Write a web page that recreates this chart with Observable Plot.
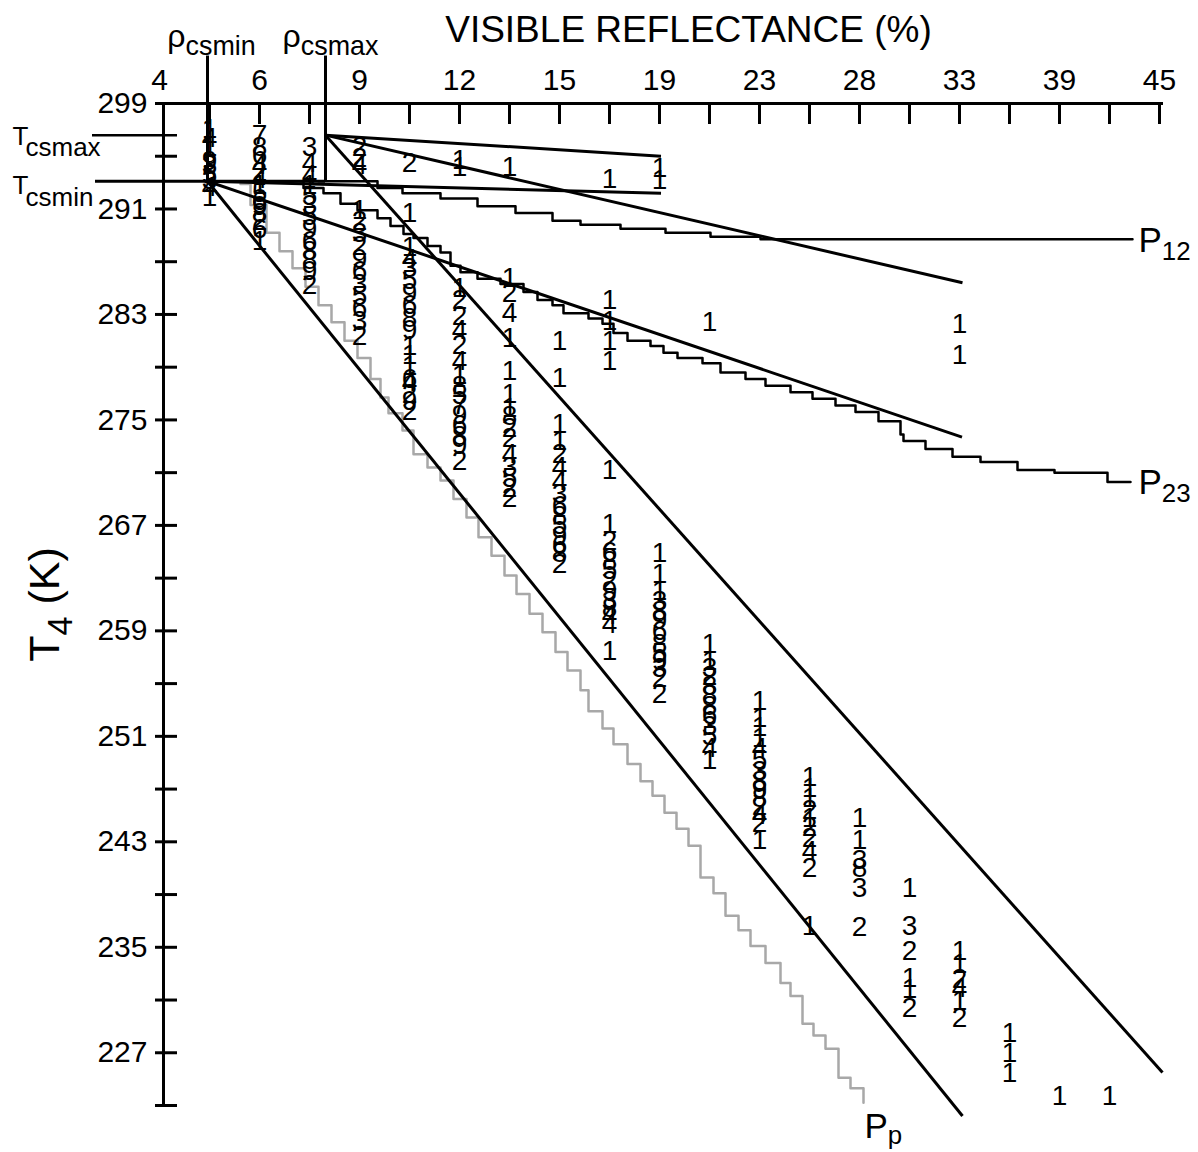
<!DOCTYPE html>
<html>
<head>
<meta charset="utf-8">
<script src="https://cdn.jsdelivr.net/npm/d3@7"></script>
<script src="https://cdn.jsdelivr.net/npm/@observablehq/plot@0.6"></script>
<style>
  body { margin: 0; background: #fff; }
  #chart svg text { font-family: Arial, "Liberation Sans", Helvetica, sans-serif; }
</style>
</head>
<body>
<div id="chart"></div>
<script>
// Horizontal axis: reflectance bins 0..20, labelled every second bin.
const binTicks = [0,1,2,3,4,5,6,7,8,9,10,11,12,13,14,15,16,17,18,19,20];
const labelBins = [0,2,4,6,8,10,12,14,16,18,20];
const reflectanceLabels = [4,6,9,12,15,19,23,28,33,39,45];

// Vertical axis: brightness temperature T4 (K).
const tempTicks = [223,227,231,235,239,243,247,251,255,259,263,267,271,275,279,283,287,291,295,299];
const tempLabels = [227,235,243,251,259,267,275,283,291,299];

// Clear-sky thresholds (reflectance in bin units, temperature in K).
const rhoCsMin = 0.96, rhoCsMax = 3.32;
const tCsMin = 293.1, tCsMax = 296.6;
const thresholdTop = 302.6;          // top of the reflectance threshold markers
const thresholdLeft = [-1.34, -1.28]; // left end of Tcsmax / Tcsmin markers
const tCsMaxRight = 0.36;

// Straight boundaries from the two clear-sky corners (end points).
const endsFromMin = [[10.03, 292.2], [16.05, 273.7], [16.06, 222.2]];
const endsFromMax = [[10.03, 295.0], [16.06, 285.4], [20.06, 225.5]];

// Step boundaries [bin, T].
const p12 = [[3.18,293.1],[4.36,292.6],[4.86,292.2],[5.62,291.8],[6.36,291.2],[7.12,290.7],[7.86,290.1],
  [8.42,289.8],[9.22,289.5],[10.12,289.2],[11.02,288.9],[12.02,288.7],[19.46,288.7]];
const p23 = [[2.82,293.1],[2.88,292.6],[3.28,292.2],[3.62,291.4],[3.96,290.9],[4.36,290.3],[4.62,289.7],
  [4.88,289.1],[5.08,288.8],[5.36,288.2],[5.62,287.7],[5.82,286.7],[6.02,286.2],[6.36,285.7],[6.82,285.3],
  [7.28,284.7],[7.56,284.1],[7.86,283.7],[8.08,283.1],[8.58,282.7],[8.86,282.3],[9.08,281.6],[9.36,281.0],
  [9.82,280.6],[10.08,280.1],[10.36,279.7],[10.86,279.3],[11.22,278.6],[11.72,278.1],[12.12,277.6],
  [12.62,277.1],[13.06,276.6],[13.52,276.1],[13.92,275.6],[14.38,274.9],[14.82,273.9],[14.88,273.4],
  [15.32,272.8],[15.86,272.2],[16.42,271.8],[17.16,271.2],[17.9,271.0],[18.96,270.3],[19.42,270.3]];
const pp = [[1.62,292.9],[1.82,291.3],[2.14,289.2],[2.4,287.8],[2.66,286.5],[2.92,285.1],[3.18,283.7],
  [3.44,282.4],[3.7,281.0],[3.96,279.7],[4.22,278.1],[4.42,276.7],[4.58,275.5],[4.86,274.2],[5.08,272.4],
  [5.36,271.4],[5.62,270.4],[5.88,269.0],[6.14,267.6],[6.38,266.1],[6.64,264.7],[6.9,263.2],[7.14,261.8],
  [7.4,260.3],[7.66,258.9],[7.92,257.4],[8.16,256.0],[8.42,254.5],[8.58,252.9],[8.86,251.6],[9.08,250.4],
  [9.36,248.9],[9.62,247.6],[9.86,246.5],[10.1,245.2],[10.34,244.0],[10.58,242.7],[10.82,240.3],[11.08,239.1],
  [11.32,237.4],[11.58,236.3],[11.82,235.1],[12.12,233.8],[12.42,232.3],[12.62,231.3],[12.86,229.2],
  [13.08,228.3],[13.32,227.3],[13.58,225.1],[13.82,224.3],[14.08,223.2]];

// Pixel counts per reflectance bin: [T, count].
const c01 = [[297.1,1],[296.4,4],[295.7,1],[294.6,9],[294.3,3],[293.6,5],[293.2,3],[292.7,4],[291.9,1]];
const c02 = [[296.6,7],[295.7,8],[295.1,6],[294.3,4],[293.8,2],[293.3,4],[292.8,1],[292.2,5],[291.6,6],[291.2,9],[290.7,8],[290.1,2],[289.5,6],[288.6,1]];
const c03 = [[295.7,3],[294.5,4],[293.6,4],[292.8,1],[292.0,5],[291.3,3],[290.5,5],[289.5,9],[288.6,6],[287.8,8],[287.1,8],[286.3,9],[285.2,2]];
const c04 = [[295.7,2],[294.9,2],[294.3,4],[290.9,1],[290.1,2],[289.2,3],[288.2,2],[287.2,9],[286.3,6],[285.3,3],[284.4,5],[283.5,6],[282.5,3],[281.4,2]];
const c05 = [[294.5,2],[290.7,1],[288.1,1],[287.2,4],[286.5,3],[285.6,5],[284.6,9],[283.7,6],[282.7,8],[281.8,9],[280.6,1],[279.9,1],[279.1,1],[278.1,6],[277.9,4],[277.0,2],[276.4,9],[275.7,2]];
const c06 = [[294.7,1],[294.2,1],[285.0,1],[284.1,2],[282.9,2],[281.8,4],[280.7,2],[279.5,4],[278.4,1],[277.6,8],[276.9,5],[276.1,7],[275.4,9],[274.6,6],[273.8,8],[273.1,9],[271.9,2]];
const c07 = [[294.2,1],[285.8,1],[284.6,2],[283.1,4],[281.2,1],[278.7,1],[277.0,1],[275.9,1],[275.3,8],[274.4,2],[273.6,2],[272.4,4],[271.4,3],[270.6,5],[269.8,2],[269.1,2]];
const c08 = [[281.0,1],[278.2,1],[274.7,1],[273.4,1],[272.4,2],[271.4,4],[270.4,4],[269.4,3],[268.5,6],[267.7,8],[267.0,5],[266.2,9],[265.5,6],[264.9,8],[264.1,2]];
const c09 = [[293.3,1],[284.1,1],[282.5,1],[281.0,1],[279.5,1],[271.2,1],[267.1,1],[265.8,2],[265.0,6],[264.3,8],[263.6,5],[262.8,2],[262.0,9],[261.3,3],[260.7,8],[260.2,4],[259.5,4],[257.5,1]];
const c10 = [[294.1,1],[293.2,1],[264.9,1],[263.3,1],[262.0,1],[261.3,3],[260.5,8],[259.8,9],[259.0,6],[258.0,8],[257.3,5],[256.7,9],[256.2,3],[255.4,2],[254.2,2]];
const c11 = [[282.4,1],[258.0,1],[256.7,1],[256.2,3],[255.6,2],[254.8,8],[254.1,8],[253.3,8],[252.6,6],[251.8,3],[251.0,5],[250.1,4],[249.2,1]];
const c12 = [[253.7,1],[252.4,1],[251.7,1],[250.9,1],[250.1,4],[249.2,5],[248.4,3],[247.6,8],[246.9,9],[246.3,8],[245.7,2],[245.0,4],[244.4,2],[243.1,1]];
const c13 = [[247.9,1],[247.1,1],[246.3,1],[245.4,2],[244.8,1],[244.1,2],[243.3,2],[242.3,4],[241.0,2],[236.6,1]];
const c14 = [[244.8,1],[243.1,1],[241.6,3],[241.0,8],[239.5,3],[236.5,2]];
const c15 = [[239.5,1],[236.6,3],[234.7,2],[232.7,1],[231.8,1],[230.4,2]];
const c16 = [[282.3,1],[279.9,1],[234.7,1],[233.7,1],[232.6,2],[231.9,4],[230.9,1],[229.6,2]];
const c17 = [[228.5,1],[227.0,1],[225.5,1]];
const c18 = [[223.7,1]];
const c19 = [[223.7,1]];
const columns = [c01,c02,c03,c04,c05,c06,c07,c08,c09,c10,c11,c12,c13,c14,c15,c16,c17,c18,c19];

const counts = columns.flatMap((col, i) => col.map(([t, n]) => ({bin: i + 1, t, n})));
const segments = [
  ...endsFromMin.map(([b, t]) => ({x1: rhoCsMin, y1: tCsMin, x2: b, y2: t})),
  ...endsFromMax.map(([b, t]) => ({x1: rhoCsMax, y1: tCsMax, x2: b, y2: t}))
];
const last = a => a[a.length - 1];

// Subscript size and drop for each "base_sub" label.
const subStyle = {
  "T4": ["80%", "0.36em"],
  "ρcsmin": ["84%", "0.30em"],
  "ρcsmax": ["84%", "0.30em"],
  "Tcsmax": ["100%", "0.42em"],
  "Tcsmin": ["100%", "0.46em"],
  "P12": ["74%", "0.32em"],
  "P23": ["74%", "0.32em"],
  "Pp": ["74%", "0.22em"]
};

const font = 'Arial, "Liberation Sans", Helvetica, sans-serif';

const chart = Plot.plot({
  width: 1198,
  height: 1152,
  marginLeft: 159,
  marginRight: 39,
  marginTop: 103,
  marginBottom: 47,
  style: {background: "#fff", fontFamily: font, overflow: "visible"},
  x: {type: "linear", domain: [0, 20], axis: null},
  y: {type: "linear", domain: [223, 299], axis: null},
  marks: [
    // axis lines
    Plot.ruleX([0], {dx: 4, stroke: "#000", strokeWidth: 3}),
    Plot.ruleY([299], {dx: 4, stroke: "#000", strokeWidth: 3}),
    // tick marks
    Plot.axisY({ticks: tempTicks, tickSize: 22, dx: 18, tickFormat: () => "", label: null, stroke: "#000", strokeWidth: 3}),
    Plot.axisX({anchor: "top", ticks: binTicks.slice(1), tickSize: 20, dy: 20, tickFormat: () => "", label: null, stroke: "#000", strokeWidth: 3}),
    // tick labels
    Plot.text(labelBins, {x: d => d, frameAnchor: "top", lineAnchor: "bottom", dy: -14, text: (d, i) => String(reflectanceLabels[i]), fontSize: 30, fill: "#000"}),
    Plot.text(tempLabels, {y: d => d, frameAnchor: "left", dx: -12, textAnchor: "end", lineAnchor: "middle", text: d => String(d), fontSize: 30, fill: "#000"}),
    // titles
    Plot.text(["VISIBLE REFLECTANCE (%)"], {frameAnchor: "top", lineAnchor: "middle", dx: 29, dy: -73, fontSize: 37, fill: "#000"}),
    Plot.text(["T_4_ (K)"], {frameAnchor: "left", textAnchor: "middle", lineAnchor: "middle", dx: -114, rotate: -90, fontSize: 43, fill: "#000"}),

    // gray Pp step boundary
    Plot.line(pp, {x: d => d[0], y: d => d[1], curve: "step-after", stroke: "#a8a8a8", strokeWidth: 2.5}),

    // clear-sky threshold markers
    Plot.ruleX([rhoCsMin, rhoCsMax], {x: d => d, y1: thresholdTop, y2: tCsMin, stroke: "#000", strokeWidth: 3}),
    Plot.ruleY([tCsMax], {y: d => d, x1: thresholdLeft[0], x2: tCsMaxRight, stroke: "#000", strokeWidth: 2.5}),
    Plot.ruleY([tCsMin], {y: d => d, x1: thresholdLeft[1], x2: rhoCsMax, stroke: "#000", strokeWidth: 3}),

    // straight boundaries
    Plot.link(segments, {x1: "x1", y1: "y1", x2: "x2", y2: "y2", stroke: "#000", strokeWidth: 3}),

    // step boundaries
    Plot.line(p12, {x: d => d[0], y: d => d[1], curve: "step-after", stroke: "#000", strokeWidth: 2.5}),
    Plot.line(p23, {x: d => d[0], y: d => d[1], curve: "step-after", stroke: "#000", strokeWidth: 2.5}),

    // counts
    Plot.text(counts, {x: "bin", y: "t", text: d => String(d.n), fontSize: 28, fill: "#000"}),

    // annotations
    Plot.text(["\u03C1_csmin"], {x: rhoCsMin, y: thresholdTop, dx: 4, dy: -19, fontSize: 32, fill: "#000"}),
    Plot.text(["\u03C1_csmax"], {x: rhoCsMax, y: thresholdTop, dx: 5, dy: -19, fontSize: 32, fill: "#000"}),
    Plot.text(["T_csmax"], {x: thresholdLeft[0], y: tCsMax, dx: -80, dy: 2, textAnchor: "start", fontSize: 26, fill: "#000"}),
    Plot.text(["T_csmin"], {x: thresholdLeft[1], y: tCsMin, dx: -83, dy: 4, textAnchor: "start", fontSize: 26, fill: "#000"}),
    Plot.text([last(p12)], {x: d => d[0], y: d => d[1], dx: 6, dy: 1, textAnchor: "start", text: () => "P_12", fontSize: 35, fill: "#000"}),
    Plot.text([last(p23)], {x: d => d[0], y: d => d[1], dx: 8, dy: 1, textAnchor: "start", text: () => "P_23", fontSize: 35, fill: "#000"}),
    Plot.text([last(pp)], {x: d => d[0], y: d => d[1], dx: 1, dy: 24, textAnchor: "start", text: () => "P_p", fontSize: 35, fill: "#000"})
  ]
});

// Turn "base_sub_rest" labels into base + subscript tspans.
const ns = "http://www.w3.org/2000/svg";
chart.querySelectorAll("text").forEach(t => {
  const s = t.textContent;
  if (!s.includes("_")) return;
  const [base, sub, rest] = s.split("_");
  const [size, drop] = subStyle[base + sub] || ["80%", "0.35em"];
  t.textContent = "";
  const a = document.createElementNS(ns, "tspan");
  a.textContent = base;
  t.appendChild(a);
  const b = document.createElementNS(ns, "tspan");
  b.textContent = sub;
  b.setAttribute("dy", drop);
  b.setAttribute("font-size", size);
  t.appendChild(b);
  if (rest) {
    const c = document.createElementNS(ns, "tspan");
    c.textContent = rest;
    c.setAttribute("dy", "-" + (parseFloat(drop) * parseFloat(size) / 100).toFixed(3) + "em");
    t.appendChild(c);
  }
});

document.getElementById("chart").appendChild(chart);
</script>
</body>
</html>
